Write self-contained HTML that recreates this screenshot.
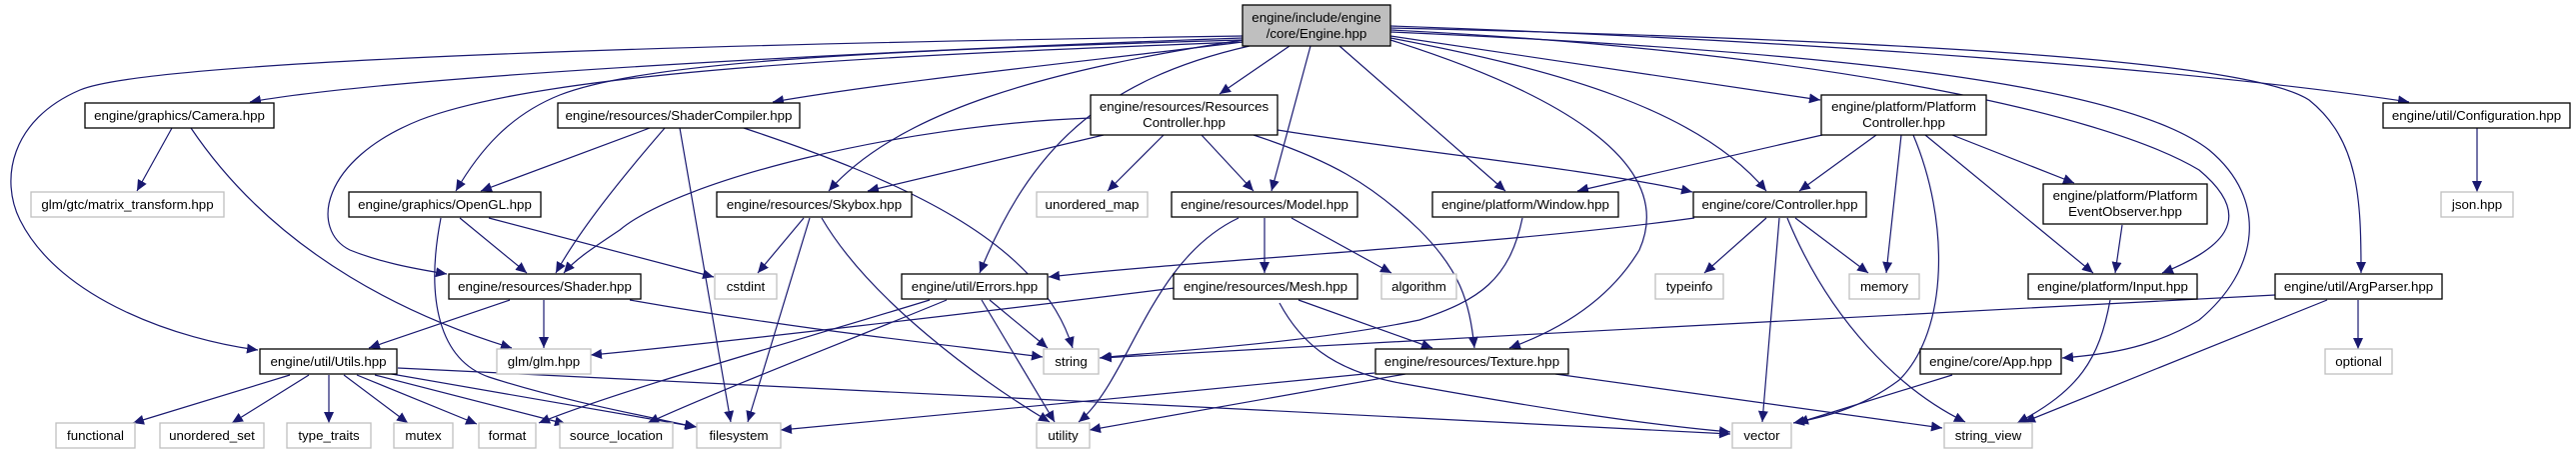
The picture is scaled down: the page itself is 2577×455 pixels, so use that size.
<!DOCTYPE html>
<html><head><meta charset="utf-8"><style>
html,body{margin:0;padding:0;background:#fff;}
svg{display:block;}
text{font-family:"Liberation Sans",Arial,sans-serif;font-size:13.3px;fill:#000;}
.e{fill:none;stroke:#191970;stroke-width:1.2;}
.n{fill:#fff;stroke:#000;stroke-width:1.3;}
.x{fill:#fff;stroke:#bfbfbf;stroke-width:1.3;}
</style></head><body>
<svg width="2577" height="455" viewBox="0 0 2577 455" xmlns="http://www.w3.org/2000/svg">
<defs><marker id="a" markerUnits="userSpaceOnUse" markerWidth="12" markerHeight="10" refX="11" refY="5" orient="auto"><path d="M0,0 L11,5 L0,10 z" fill="#191970"/></marker></defs>
<g class="e" marker-end="url(#a)">
<path d="M1243,36 C700,44 150,60 80,90 C10,120 0,180 20,220 C60,300 180,340 258,350"/>
<path d="M1243,38 C900,50 400,75 250,102"/>
<path d="M1243,40 C900,50 650,60 560,95 C510,115 480,150 456,191"/>
<path d="M1243,42 C900,55 550,70 420,120 C320,160 310,230 350,250 C380,262 410,268 447,274"/>
<path d="M1243,42 C1100,60 900,80 773,102"/>
<path d="M1243,40 C1050,70 900,110 829,191"/>
<path d="M1250,46 C1100,80 1030,150 980,273"/>
<path d="M1290,46 L1220,94"/>
<path d="M1311,46 L1272,191"/>
<path d="M1340,46 L1506,191"/>
<path d="M1391,40 C1550,90 1680,160 1640,250 C1610,300 1560,330 1510,348"/>
<path d="M1391,38 C1560,70 1700,110 1767,191"/>
<path d="M1391,36 L1821,100"/>
<path d="M1391,26 C1800,40 2200,70 2410,102"/>
<path d="M1391,28 C1900,40 2250,60 2310,100 C2360,140 2362,200 2362,273"/>
<path d="M1391,30 C1800,50 2100,110 2200,170 C2260,220 2220,250 2163,273"/>
<path d="M1391,32 C1800,50 2120,80 2210,150 C2270,200 2260,270 2200,320 C2150,350 2100,355 2063,358"/>
<path d="M172,128 L137,191"/>
<path d="M191,128 C280,260 420,320 512,348"/>
<path d="M650,128 L481,191"/>
<path d="M665,128 C620,180 580,230 556,273"/>
<path d="M680,128 L731,422"/>
<path d="M744,128 C900,180 1040,240 1073,348"/>
<path d="M460,218 L527,273"/>
<path d="M489,218 L714,277"/>
<path d="M441,218 C425,300 440,360 489,377 C560,400 640,415 696,427"/>
<path d="M1091,118 C900,125 680,180 620,230 C590,250 575,260 564,273"/>
<path d="M1104,135 L868,191"/>
<path d="M1164,135 L1108,191"/>
<path d="M1202,135 L1254,191"/>
<path d="M1278,130 C1400,150 1600,170 1693,192"/>
<path d="M1254,135 C1330,160 1371,183 1420,230 C1460,270 1470,300 1475,348"/>
<path d="M804,218 L758,273"/>
<path d="M810,218 L748,422"/>
<path d="M822,218 C870,300 980,380 1050,422"/>
<path d="M1292,218 L1392,273"/>
<path d="M1265,218 L1265,273"/>
<path d="M1239,218 C1150,260 1130,380 1079,422"/>
<path d="M1523,218 C1510,280 1480,300 1420,320 C1300,345 1150,352 1100,358"/>
<path d="M1695,218 C1500,245 1200,260 1049,277"/>
<path d="M1767,218 L1705,273"/>
<path d="M1796,218 L1869,273"/>
<path d="M1780,218 L1763,422"/>
<path d="M1788,218 C1830,320 1900,390 1966,422"/>
<path d="M1823,135 L1578,191"/>
<path d="M1877,135 L1800,191"/>
<path d="M1902,135 L1887,273"/>
<path d="M1914,135 C1950,220 1950,330 1900,380 C1860,410 1820,418 1794,423"/>
<path d="M1953,135 L2075,183"/>
<path d="M1926,135 L2094,273"/>
<path d="M2123,225 L2116,273"/>
<path d="M990,300 L1048,348"/>
<path d="M982,300 L1055,422"/>
<path d="M930,300 C800,340 620,390 539,423"/>
<path d="M947,300 C850,340 720,390 648,423"/>
<path d="M1175,288 C1000,310 700,345 591,355"/>
<path d="M1299,300 L1433,348"/>
<path d="M1280,303 C1300,340 1330,370 1400,383 C1550,410 1650,425 1731,432"/>
<path d="M510,300 L369,348"/>
<path d="M544,300 L544,348"/>
<path d="M630,300 C800,330 950,345 1043,357"/>
<path d="M1375,373 C1200,390 900,420 781,430"/>
<path d="M1406,374 L1090,430"/>
<path d="M1556,374 L1943,428"/>
<path d="M290,375 L133,423"/>
<path d="M309,375 L232,423"/>
<path d="M329,375 L329,423"/>
<path d="M344,375 L408,423"/>
<path d="M357,375 L477,424"/>
<path d="M375,375 L566,424"/>
<path d="M386,373 L697,427"/>
<path d="M398,368 C700,385 1300,410 1731,434"/>
<path d="M1953,375 L1798,423"/>
<path d="M2111,300 C2100,360 2080,390 2018,423"/>
<path d="M2276,295 C2100,305 1500,335 1101,358"/>
<path d="M2359,300 L2359,349"/>
<path d="M2328,300 L2025,422"/>
<path d="M2478,128 L2478,192"/>
</g>
<g>
<rect x="1243" y="5" width="148" height="41" fill="#bfbfbf" stroke="#000" stroke-width="1.3"/>
<text x="1317" y="22" text-anchor="middle">engine/include/engine</text>
<text x="1317" y="38" text-anchor="middle">/core/Engine.hpp</text>
<rect class="n" x="1091" y="95" width="187" height="40"/>
<text x="1184.5" y="111" text-anchor="middle">engine/resources/Resources</text>
<text x="1184.5" y="127" text-anchor="middle">Controller.hpp</text>
<rect class="n" x="1822" y="95" width="165" height="40"/>
<text x="1904.5" y="111" text-anchor="middle">engine/platform/Platform</text>
<text x="1904.5" y="127" text-anchor="middle">Controller.hpp</text>
<rect class="n" x="2044" y="184" width="164" height="40"/>
<text x="2126" y="200" text-anchor="middle">engine/platform/Platform</text>
<text x="2126" y="216" text-anchor="middle">EventObserver.hpp</text>
</g>
<g text-anchor="middle">
<rect class="n" x="85" y="103" width="189" height="25"/><text x="179.5" y="120">engine/graphics/Camera.hpp</text>
<rect class="x" x="31" y="192" width="193" height="25"/><text x="127.5" y="209">glm/gtc/matrix_transform.hpp</text>
<rect class="n" x="349" y="192" width="192" height="25"/><text x="445" y="209">engine/graphics/OpenGL.hpp</text>
<rect class="n" x="449" y="274" width="192" height="25"/><text x="545" y="291">engine/resources/Shader.hpp</text>
<rect class="n" x="260" y="349" width="137" height="25"/><text x="328.5" y="366">engine/util/Utils.hpp</text>
<rect class="x" x="497" y="349" width="94" height="25"/><text x="544" y="366">glm/glm.hpp</text>
<rect class="x" x="56" y="423" width="79" height="25"/><text x="95.5" y="440">functional</text>
<rect class="x" x="160" y="423" width="104" height="25"/><text x="212" y="440">unordered_set</text>
<rect class="x" x="287" y="423" width="84" height="25"/><text x="329" y="440">type_traits</text>
<rect class="x" x="394" y="423" width="59" height="25"/><text x="423.5" y="440">mutex</text>
<rect class="x" x="479" y="423" width="57" height="25"/><text x="507.5" y="440">format</text>
<rect class="x" x="560" y="423" width="113" height="25"/><text x="616.5" y="440">source_location</text>
<rect class="x" x="697" y="423" width="84" height="25"/><text x="739" y="440">filesystem</text>
<rect class="x" x="1037" y="423" width="53" height="25"/><text x="1063.5" y="440">utility</text>
<rect class="x" x="1733" y="423" width="59" height="25"/><text x="1762.5" y="440">vector</text>
<rect class="x" x="1945" y="423" width="88" height="25"/><text x="1989" y="440">string_view</text>
<rect class="n" x="558" y="103" width="242" height="25"/><text x="679" y="120">engine/resources/ShaderCompiler.hpp</text>
<rect class="n" x="717" y="192" width="195" height="25"/><text x="814.5" y="209">engine/resources/Skybox.hpp</text>
<rect class="x" x="1037" y="192" width="111" height="25"/><text x="1092.5" y="209">unordered_map</text>
<rect class="n" x="1172" y="192" width="186" height="25"/><text x="1265" y="209">engine/resources/Model.hpp</text>
<rect class="n" x="902" y="274" width="146" height="25"/><text x="975" y="291">engine/util/Errors.hpp</text>
<rect class="x" x="715" y="274" width="62" height="25"/><text x="746" y="291">cstdint</text>
<rect class="x" x="1044" y="349" width="55" height="25"/><text x="1071.5" y="366">string</text>
<rect class="n" x="1174" y="274" width="184" height="25"/><text x="1266" y="291">engine/resources/Mesh.hpp</text>
<rect class="n" x="1433" y="192" width="186" height="25"/><text x="1526" y="209">engine/platform/Window.hpp</text>
<rect class="n" x="1694" y="192" width="173" height="25"/><text x="1780.5" y="209">engine/core/Controller.hpp</text>
<rect class="x" x="1382" y="274" width="75" height="25"/><text x="1419.5" y="291">algorithm</text>
<rect class="x" x="1656" y="274" width="68" height="25"/><text x="1690" y="291">typeinfo</text>
<rect class="x" x="1850" y="274" width="70" height="25"/><text x="1885" y="291">memory</text>
<rect class="n" x="1376" y="349" width="193" height="25"/><text x="1472.5" y="366">engine/resources/Texture.hpp</text>
<rect class="n" x="1921" y="349" width="141" height="25"/><text x="1991.5" y="366">engine/core/App.hpp</text>
<rect class="n" x="2029" y="274" width="169" height="25"/><text x="2113.5" y="291">engine/platform/Input.hpp</text>
<rect class="n" x="2276" y="274" width="167" height="25"/><text x="2359.5" y="291">engine/util/ArgParser.hpp</text>
<rect class="n" x="2384" y="103" width="187" height="25"/><text x="2477.5" y="120">engine/util/Configuration.hpp</text>
<rect class="x" x="2442" y="192" width="72" height="25"/><text x="2478" y="209">json.hpp</text>
<rect class="x" x="2326" y="349" width="67" height="25"/><text x="2359.5" y="366">optional</text>
</g>
</svg>
</body></html>
